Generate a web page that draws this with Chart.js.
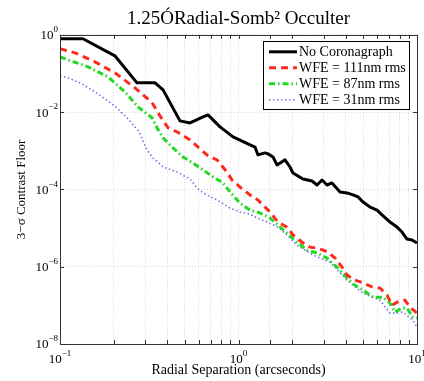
<!DOCTYPE html>
<html>
<head>
<meta charset="utf-8">
<script src="https://cdn.jsdelivr.net/npm/chart.js@4.4.1/dist/chart.umd.min.js"></script>
<style>
  html, body { margin: 0; padding: 0; background: #fff; }
  #contenedor { width: 424px; height: 381px; }
</style>
</head>
<body>
<div id="contenedor"><canvas id="grafico"></canvas></div>
<script>
// Datos (separación en arcsec, contraste 3-sigma)
const sepSinCoron = [0.1, 0.1345, 0.203, 0.270, 0.341, 0.378, 0.470, 0.535, 0.633, 0.675, 0.788, 0.932, 1.13, 1.237, 1.286, 1.408, 1.463, 1.561, 1.643, 1.822, 1.943, 2.02, 2.298, 2.581, 2.754, 2.937, 3.132, 3.34, 3.703, 4.054, 4.38, 4.672, 4.984, 5.455, 5.97, 6.368, 7.06, 7.727, 8.241, 8.79, 9.376, 10];
const contSinCoron = [0.79, 0.79, 0.286, 0.0571, 0.0571, 0.0376, 0.00592, 0.00525, 0.00751, 0.00846, 0.00414, 0.00228, 0.0015, 0.00125, 0.00078, 0.00088, 0.00083, 0.00069, 0.00043, 0.00058, 0.00038, 0.000266, 0.000186, 0.000165, 0.00013, 0.000175, 0.00013, 0.000147, 8.6e-5, 8.1e-5, 7.2e-5, 6.4e-5, 4.7e-5, 3.5e-5, 2.9e-5, 2.2e-5, 1.43e-5, 1.06e-5, 7.9e-6, 5.2e-6, 4.9e-6, 4.1e-6];

const sepWfe111 = [0.1, 0.1214, 0.157, 0.203, 0.263, 0.328, 0.363, 0.403, 0.452, 0.535, 0.666, 0.758, 0.862, 0.92, 1.02, 1.16, 1.286, 1.501, 1.665, 1.87, 2.02, 2.269, 2.515, 2.789, 3.172, 3.472, 3.8, 4.054, 4.495, 4.984, 5.598, 6.206, 6.793, 7.245, 7.727, 8.566, 9.137, 10];
const contWfe111 = [0.434, 0.342, 0.2, 0.1036, 0.0424, 0.0175, 0.008, 0.0039, 0.0031, 0.0019, 0.00078, 0.00058, 0.00028, 0.000175, 0.000115, 7.2e-5, 5.3e-5, 2.6e-5, 1.43e-5, 1.06e-5, 6.6e-6, 4.3e-6, 3.2e-6, 3.0e-6, 2.4e-6, 1.67e-6, 9.8e-7, 6.1e-7, 4.5e-7, 3.8e-7, 3.0e-7, 2.8e-7, 1.84e-7, 1.01e-7, 1.21e-7, 1.36e-7, 9.0e-8, 6.3e-8];

const sepWfe87 = [0.1, 0.111, 0.1435, 0.186, 0.231, 0.2735, 0.328, 0.35, 0.378, 0.43, 0.489, 0.556, 0.633, 0.72, 0.819, 0.896, 1.02, 1.16, 1.319, 1.501, 1.665, 1.87, 2.127, 2.42, 2.754, 3.132, 3.609, 4.054, 4.495, 4.984, 5.67, 6.451, 7.06, 7.531, 8.241, 8.79, 9.497, 10];
const contWfe87 = [0.269, 0.225, 0.148, 0.0816, 0.0334, 0.0136, 0.0071, 0.0039, 0.00215, 0.00118, 0.00069, 0.00048, 0.00032, 0.00021, 0.000147, 8.6e-5, 4.4e-5, 2.9e-5, 2.45e-5, 1.82e-5, 1.2e-5, 7.4e-6, 4.3e-6, 2.7e-6, 2.25e-6, 1.67e-6, 9.2e-7, 5.1e-7, 3.3e-7, 2.5e-7, 1.63e-7, 1.63e-7, 1.14e-7, 6.7e-8, 8.5e-8, 8.5e-8, 4.9e-8, 4.7e-8];

const sepWfe31 = [0.1, 0.111, 0.1328, 0.1633, 0.2059, 0.2435, 0.2771, 0.3072, 0.332, 0.378, 0.452, 0.535, 0.585, 0.633, 0.758, 0.896, 1.02, 1.16, 1.269, 1.444, 1.665, 1.87, 2.127, 2.615, 3.255, 4.054, 4.984, 6.206, 7.06, 7.531, 8.348, 9.497, 10];
const contWfe31 = [0.0867, 0.0769, 0.0538, 0.0296, 0.0136, 0.0063, 0.0031, 0.00105, 0.00065, 0.00038, 0.000282, 0.000186, 0.000109, 8.1e-5, 5.3e-5, 3.3e-5, 2.6e-5, 2.3e-5, 1.82e-5, 1.43e-5, 1.06e-5, 6.6e-6, 3.6e-6, 2.0e-6, 1.32e-6, 4.5e-7, 2.07e-7, 1.36e-7, 6.3e-8, 6.3e-8, 6.7e-8, 4.1e-8, 2.7e-8];

// Etiquetas de los ejes (potencias de diez)
const xTickValores = [0.1, 1, 10];
const xTickExpon = ["\u22121", "0", "1"];
const yTickValores = [1, 1e-2, 1e-4, 1e-6, 1e-8];
const yTickExpon = ["0", "\u22122", "\u22124", "\u22126", "\u22128"];

const serif = "'Liberation Serif', 'Times New Roman', serif";

function puntos(xs, ys) {
  return xs.map((x, i) => ({ x: x, y: ys[i] }));
}

// Dibuja "10" con el exponente como superíndice
function dibujarPotencia(ctx, expo, x, y, alinear) {
  ctx.font = "13px " + serif;
  const anchoBase = ctx.measureText("10").width;
  ctx.font = "9px " + serif;
  const anchoExp = ctx.measureText(expo).width;
  let x0 = alinear === "right" ? x - anchoBase - anchoExp : x - (anchoBase + anchoExp) / 2;
  ctx.textAlign = "left";
  ctx.textBaseline = "middle";
  ctx.font = "13px " + serif;
  ctx.fillText("10", x0, y);
  ctx.font = "9px " + serif;
  ctx.fillText(expo, x0 + anchoBase, y - 6);
}

// Plugin: caja de ejes estilo Matlab, marcas internas, etiquetas y leyenda
const marcoMatlab = {
  id: "marcoMatlab",
  afterDraw(chart) {
    const ctx = chart.ctx;
    const area = chart.chartArea;
    const sx = chart.scales.x;
    const sy = chart.scales.y;
    ctx.save();

    // marcas hacia dentro
    ctx.strokeStyle = "#333";
    ctx.lineWidth = 1;
    ctx.beginPath();
    sx.ticks.forEach((t) => {
      const px = Math.round(sx.getPixelForValue(t.value)) + 0.5;
      ctx.moveTo(px, area.bottom); ctx.lineTo(px, area.bottom - 4);
      ctx.moveTo(px, area.top); ctx.lineTo(px, area.top + 4);
    });
    yTickValores.forEach((v) => {
      const py = Math.round(sy.getPixelForValue(v)) + 0.5;
      ctx.moveTo(area.left, py); ctx.lineTo(area.left + 4, py);
      ctx.moveTo(area.right, py); ctx.lineTo(area.right - 4, py);
    });
    ctx.stroke();

    // caja
    ctx.strokeRect(Math.round(area.left) + 0.5, Math.round(area.top) + 0.5,
      Math.round(area.right - area.left), Math.round(area.bottom - area.top));

    // etiquetas
    ctx.fillStyle = "#000";
    yTickValores.forEach((v, i) => {
      dibujarPotencia(ctx, yTickExpon[i], area.left - 2, sy.getPixelForValue(v) + 1, "right");
    });
    xTickValores.forEach((v, i) => {
      dibujarPotencia(ctx, xTickExpon[i], sx.getPixelForValue(v), area.bottom + 16, "center");
    });

    // leyenda con borde
    const ancho = 146, alto = 68;
    const lx = area.right - 8 - ancho;
    const ly = area.top + 6;
    ctx.fillStyle = "#fff";
    ctx.fillRect(lx, ly, ancho, alto);
    ctx.strokeStyle = "#000";
    ctx.lineWidth = 1;
    ctx.strokeRect(Math.round(lx) + 0.5, Math.round(ly) + 0.5, ancho, alto);
    chart.data.datasets.forEach((ds, i) => {
      const fy = ly + 11 + i * 16;
      ctx.save();
      ctx.strokeStyle = ds.borderColor;
      ctx.lineWidth = ds.borderWidth;
      ctx.setLineDash(ds.borderDash || []);
      ctx.beginPath();
      ctx.moveTo(lx + 6, fy);
      ctx.lineTo(lx + 34, fy);
      ctx.stroke();
      ctx.restore();
      ctx.fillStyle = "#000";
      ctx.font = "14px " + serif;
      ctx.textAlign = "left";
      ctx.textBaseline = "middle";
      ctx.fillText(ds.label, lx + 36, fy + 1);
    });
    ctx.restore();
  }
};

const ctx = document.getElementById("grafico").getContext("2d");
new Chart(ctx, {
  type: "line",
  data: {
    datasets: [
      {
        label: "No Coronagraph",
        data: puntos(sepSinCoron, contSinCoron),
        borderColor: "#000000",
        borderWidth: 3,
        borderJoinStyle: "round",
      },
      {
        label: "WFE = 111nm rms",
        data: puntos(sepWfe111, contWfe111),
        borderColor: "#ff2a1c",
        borderWidth: 3,
        borderDash: [7, 5],
      },
      {
        label: "WFE = 87nm rms",
        data: puntos(sepWfe87, contWfe87),
        borderColor: "#22d822",
        borderWidth: 3,
        borderDash: [6, 3, 1.5, 3],
      },
      {
        label: "WFE = 31nm rms",
        data: puntos(sepWfe31, contWfe31),
        borderColor: "#7373e6",
        borderWidth: 1.6,
        borderDash: [1.5, 2.5],
      },
    ],
  },
  options: {
    responsive: true,
    maintainAspectRatio: false,
    animation: false,
    devicePixelRatio: 1,
    layout: { padding: { left: 0, right: 7, top: 0, bottom: 0 } },
    elements: { point: { radius: 0 }, line: { tension: 0, fill: false } },
    scales: {
      x: {
        type: "logarithmic",
        min: 0.1,
        max: 10,
        afterFit: (s) => { s.height = 37; s.paddingLeft = 0; s.paddingRight = 0; },
        ticks: { display: false },
        grid: { color: "#d6d6d6", lineWidth: 1, drawTicks: false },
        border: { display: false, dash: [1, 2] },
        title: {
          display: true,
          text: "Radial Separation (arcseconds)",
          color: "#000",
          font: { family: serif, size: 14 },
          padding: { top: 0, bottom: 2 },
        },
      },
      y: {
        type: "logarithmic",
        min: 1e-8,
        max: 1,
        afterBuildTicks: (s) => { s.ticks = yTickValores.map((v) => ({ value: v })); },
        afterFit: (s) => { s.width = 60; },
        ticks: { display: false },
        grid: { color: "#d6d6d6", lineWidth: 1, drawTicks: false },
        border: { display: false, dash: [1, 2] },
        title: {
          display: true,
          text: "3\u2212\u03c3 Contrast Floor",
          color: "#000",
          font: { family: serif, size: 13 },
          padding: { top: 14, bottom: 0 },
        },
      },
    },
    plugins: {
      legend: { display: false },
      tooltip: { enabled: false },
      title: {
        display: true,
        fullSize: false,
        text: "1.25\u00d3Radial-Somb\u00b2 Occulter",
        color: "#000",
        font: { family: serif, size: 19, weight: "normal" },
        padding: { top: 8, bottom: 4 },
      },
    },
  },
  plugins: [marcoMatlab],
});
</script>
</body>
</html>
